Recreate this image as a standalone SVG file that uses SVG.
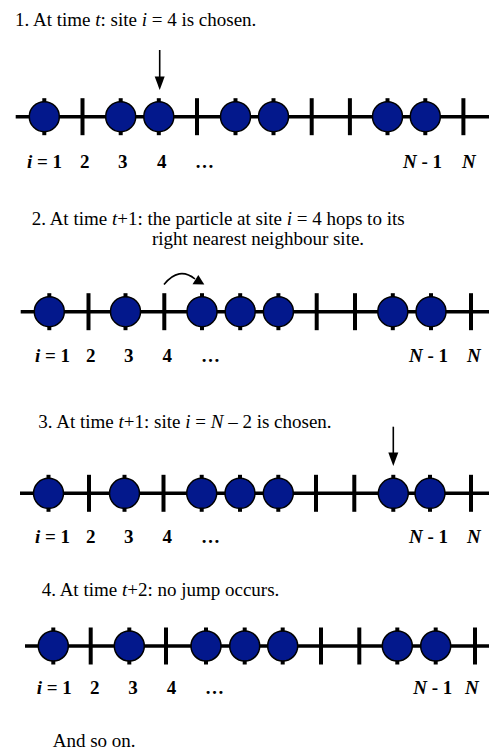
<svg xmlns="http://www.w3.org/2000/svg" xmlns:xlink="http://www.w3.org/1999/xlink" width="489" height="753" viewBox="0 0 489 753">
<style>
.t{font-family:"Liberation Serif","Times New Roman",serif;font-size:19px;fill:#000}
.lb{font-family:"Liberation Serif","Times New Roman",serif;font-size:19px;font-weight:bold;fill:#000}
.it{font-style:italic}
.ln{stroke:#000;stroke-width:3.5;fill:none}
.tk{stroke:#000;stroke-width:4;fill:none}
.ball{fill:#03188c;stroke:#000;stroke-width:1.5}
.ar{stroke:#000;stroke-width:1.6;fill:none}
</style>
<defs>
<g id="tick"><line class="tk" x1="0" y1="-18.5" x2="0" y2="18.5"/></g>
<g id="site"><line class="tk" x1="0" y1="-18.5" x2="0" y2="18.5"/><circle class="ball" cx="0" cy="0" r="15"/></g>
</defs>
<rect width="489" height="753" fill="#fff"/>

<g id="step1">
<text class="t" x="15" y="26">1. At time <tspan class="it">t</tspan>: site <tspan class="it">i</tspan> = 4 is chosen.</text>
<line class="ln" x1="15.7" y1="116.7" x2="489" y2="116.7"/>
<g transform="translate(0,116.7)">
<use xlink:href="#site" x="44.3"/>
<use xlink:href="#tick" x="82.5"/>
<use xlink:href="#site" x="120.7"/>
<use xlink:href="#site" x="158.8"/>
<use xlink:href="#tick" x="197"/>
<use xlink:href="#site" x="235.5"/>
<use xlink:href="#site" x="273.5"/>
<use xlink:href="#tick" x="311.7"/>
<use xlink:href="#tick" x="349.9"/>
<use xlink:href="#site" x="387.5"/>
<use xlink:href="#site" x="425.3"/>
<use xlink:href="#tick" x="463.4"/>
</g>
<text class="lb" x="27" y="167.7"><tspan class="it">i</tspan> = 1</text>
<text class="lb" x="80" y="167.7">2</text>
<text class="lb" x="118" y="167.7">3</text>
<text class="lb" x="157" y="167.7">4</text>
<text class="lb" x="195" y="167.7">…</text>
<text class="lb" x="403" y="167.7"><tspan class="it">N</tspan> - 1</text>
<text class="lb" x="462" y="167.7" font-style="italic">N</text>
</g>

<g id="step2">
<text class="t" x="31.7" y="225">2. At time <tspan class="it">t</tspan>+1: the particle at site <tspan class="it">i</tspan> = 4 hops to its</text>
<text class="t" x="152" y="245">right nearest neighbour site.</text>
<line class="ln" x1="20.7" y1="311.7" x2="489" y2="311.7"/>
<g transform="translate(0,311.7)">
<use xlink:href="#site" x="49.3"/>
<use xlink:href="#tick" x="88.5"/>
<use xlink:href="#site" x="125.5"/>
<use xlink:href="#tick" x="164.3"/>
<use xlink:href="#site" x="202"/>
<use xlink:href="#site" x="240.2"/>
<use xlink:href="#site" x="278.4"/>
<use xlink:href="#tick" x="316.7"/>
<use xlink:href="#tick" x="355"/>
<use xlink:href="#site" x="392.8"/>
<use xlink:href="#site" x="431"/>
<use xlink:href="#tick" x="471"/>
</g>
<text class="lb" x="35" y="361.7"><tspan class="it">i</tspan> = 1</text>
<text class="lb" x="86" y="361.7">2</text>
<text class="lb" x="124" y="361.7">3</text>
<text class="lb" x="162.5" y="361.7">4</text>
<text class="lb" x="201" y="361.7">…</text>
<text class="lb" x="409" y="361.7"><tspan class="it">N</tspan> - 1</text>
<text class="lb" x="467" y="361.7" font-style="italic">N</text>
</g>

<g id="step3">
<text class="t" x="38.3" y="428.3">3. At time <tspan class="it">t</tspan>+1: site <tspan class="it">i</tspan> = <tspan class="it">N</tspan> – 2 is chosen.</text>
<line class="ln" x1="20" y1="493.3" x2="489" y2="493.3"/>
<g transform="translate(0,493.3)">
<use xlink:href="#site" x="48.5"/>
<use xlink:href="#tick" x="89"/>
<use xlink:href="#site" x="124.5"/>
<use xlink:href="#tick" x="163.5"/>
<use xlink:href="#site" x="201.7"/>
<use xlink:href="#site" x="240"/>
<use xlink:href="#site" x="278.3"/>
<use xlink:href="#tick" x="316"/>
<use xlink:href="#tick" x="354.3"/>
<use xlink:href="#site" x="393.3"/>
<use xlink:href="#site" x="430"/>
<use xlink:href="#tick" x="471"/>
</g>
<text class="lb" x="35" y="543.3"><tspan class="it">i</tspan> = 1</text>
<text class="lb" x="86" y="543.3">2</text>
<text class="lb" x="124" y="543.3">3</text>
<text class="lb" x="162.5" y="543.3">4</text>
<text class="lb" x="201" y="543.3">…</text>
<text class="lb" x="409" y="543.3"><tspan class="it">N</tspan> - 1</text>
<text class="lb" x="467" y="543.3" font-style="italic">N</text>
</g>

<g id="step4">
<text class="t" x="41.7" y="596">4. At time <tspan class="it">t</tspan>+2: no jump occurs.</text>
<line class="ln" x1="25" y1="646" x2="489" y2="646"/>
<g transform="translate(0,646)">
<use xlink:href="#site" x="53.3"/>
<use xlink:href="#tick" x="90.7"/>
<use xlink:href="#site" x="129.3"/>
<use xlink:href="#tick" x="166"/>
<use xlink:href="#site" x="206"/>
<use xlink:href="#site" x="244.7"/>
<use xlink:href="#site" x="282.7"/>
<use xlink:href="#tick" x="321"/>
<use xlink:href="#tick" x="359.3"/>
<use xlink:href="#site" x="397.3"/>
<use xlink:href="#site" x="435.7"/>
<use xlink:href="#tick" x="475"/>
</g>
<text class="lb" x="36.7" y="694.3"><tspan class="it">i</tspan> = 1</text>
<text class="lb" x="90" y="694.3">2</text>
<text class="lb" x="128.3" y="694.3">3</text>
<text class="lb" x="166.7" y="694.3">4</text>
<text class="lb" x="205" y="694.3">…</text>
<text class="lb" x="413.3" y="694.3"><tspan class="it">N</tspan> - 1</text>
<text class="lb" x="465" y="694.3" font-style="italic">N</text>
</g>

<g id="footer">
<text class="t" x="52.7" y="746.7">And so on.</text>
</g>

<g id="connectors">
<line class="ar" x1="159.7" y1="50" x2="159.7" y2="78"/>
<polygon points="154.7,76.5 164.7,76.5 159.7,90" fill="#000"/>
<path class="ar" d="M164,284.5 Q179,266 195,279"/>
<polygon points="198.3,275 192.5,284.3 204.3,284.5" fill="#000"/>
<line class="ar" x1="393.3" y1="426.7" x2="393.3" y2="454"/>
<polygon points="388.3,452.5 398.3,452.5 393.3,466" fill="#000"/>
</g>
</svg>
